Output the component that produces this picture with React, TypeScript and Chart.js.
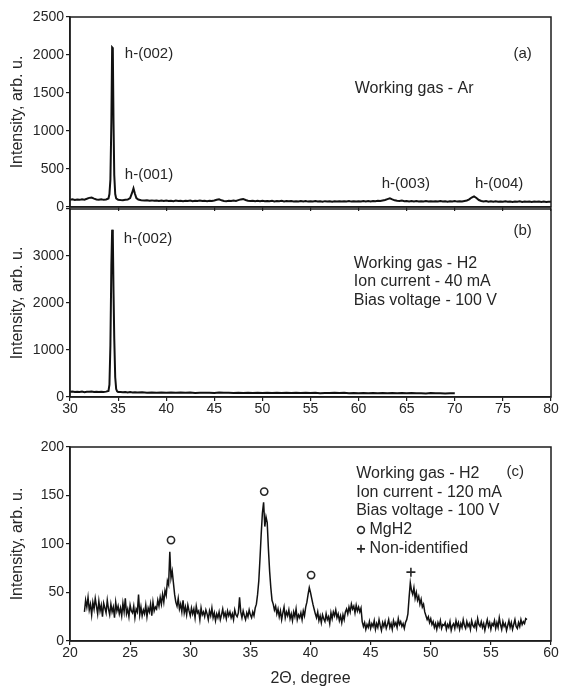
import React, { useEffect, useRef } from 'react';
import { Chart, registerables } from 'chart.js';

Chart.register(...registerables);

const FONT = '"Liberation Sans", Arial, Helvetica, sans-serif';
const TEXT = '#262626';
const AXIS = '#1c1c1c';
const LINE = '#111111';

// ---------- Panel (a): working gas Ar ----------
const aX = [
  30.0, 30.25, 30.5, 30.75, 31.0, 31.25, 31.5, 31.75, 32.0, 32.25, 32.5, 32.75, 33.0, 33.25, 33.5, 33.75,
  34.0, 34.1, 34.2, 34.3, 34.38, 34.45, 34.52, 34.6, 34.7, 34.8, 35.0, 35.25, 35.5, 35.75, 36.0, 36.25,
  36.45, 36.6, 36.75, 36.9, 37.1, 37.4, 37.75, 38.0, 38.25, 38.5, 38.75, 39.0, 39.25, 39.5, 39.75, 40.0,
  40.25, 40.5, 40.75, 41.0, 41.25, 41.5, 41.75, 42.0, 42.25, 42.5, 42.75, 43.0, 43.25, 43.5, 43.75, 44.0,
  44.25, 44.5, 44.75, 45.0, 45.25, 45.5, 45.75, 46.0, 46.25, 46.5, 46.75, 47.0, 47.25, 47.5, 47.75, 48.0,
  48.25, 48.5, 48.75, 49.0, 49.25, 49.5, 49.75, 50.0, 50.25, 50.5, 50.75, 51.0, 51.25, 51.5, 51.75, 52.0,
  52.25, 52.5, 52.75, 53.0, 53.25, 53.5, 53.75, 54.0, 54.25, 54.5, 54.75, 55.0, 55.25, 55.5, 55.75, 56.0,
  56.25, 56.5, 56.75, 57.0, 57.25, 57.5, 57.75, 58.0, 58.25, 58.5, 58.75, 59.0, 59.25, 59.5, 59.75, 60.0,
  60.25, 60.5, 60.75, 61.0, 61.25, 61.5, 61.75, 62.0, 62.25, 62.5, 62.75, 63.0, 63.25, 63.5, 63.75, 64.0,
  64.25, 64.5, 64.75, 65.0, 65.25, 65.5, 65.75, 66.0, 66.25, 66.5, 66.75, 67.0, 67.25, 67.5, 67.75, 68.0,
  68.25, 68.5, 68.75, 69.0, 69.25, 69.5, 69.75, 70.0, 70.25, 70.5, 70.75, 71.0, 71.25, 71.5, 71.75, 72.0,
  72.25, 72.5, 72.75, 73.0, 73.25, 73.5, 73.75, 74.0, 74.25, 74.5, 74.75, 75.0, 75.25, 75.5, 75.75, 76.0,
  76.25, 76.5, 76.75, 77.0, 77.25, 77.5, 77.75, 78.0, 78.25, 78.5, 78.75, 79.0, 79.25, 79.5, 79.75, 80.0,
];
const aY = [
  95, 102, 93, 99, 94, 101, 97, 108, 120, 124, 110, 99, 95, 101, 94, 99,
  112, 170, 360, 1120, 2100, 2090, 1150, 420, 170, 112, 96, 92, 90, 94, 98, 118,
  185, 245, 175, 118, 98, 90, 86, 90, 83, 87, 81, 86, 80, 84, 79, 85,
  78, 83, 77, 84, 79, 82, 76, 83, 78, 85, 77, 82, 79, 84, 78, 81,
  77, 83, 80, 86, 95, 102, 88, 80, 76, 82, 78, 84, 80, 90, 100, 106,
  92, 82, 78, 83, 77, 81, 76, 82, 75, 80, 77, 83, 74, 79, 76, 81,
  73, 78, 75, 80, 74, 77, 72, 79, 74, 78, 71, 77, 73, 78, 72, 76,
  70, 77, 73, 75, 70, 76, 72, 77, 71, 75, 73, 78, 71, 76, 72, 77,
  73, 79, 74, 78, 73, 80, 76, 82, 78, 85, 92, 104, 114, 100, 88, 82,
  78, 84, 76, 80, 74, 79, 73, 78, 72, 77, 74, 79, 72, 76, 71, 77,
  73, 78, 72, 76, 70, 75, 72, 78, 71, 76, 73, 80, 86, 100, 125, 140,
  118, 92, 80, 74, 78, 70, 75, 69, 74, 68, 73, 70, 75, 68, 72, 67,
  73, 69, 74, 67, 72, 68, 73, 66, 71, 68, 72, 66, 71, 67, 70, 70,
];

// ---------- Panel (b): working gas H2, 40 mA ----------
const bX = [
  30.0, 30.25, 30.5, 30.75, 31.0, 31.25, 31.5, 31.75, 32.0, 32.25, 32.5, 32.75, 33.0, 33.25, 33.5, 33.75,
  34.0, 34.1, 34.2, 34.3, 34.38, 34.45, 34.52, 34.6, 34.7, 34.8, 34.9, 35.0, 35.25, 35.5, 35.75, 36.0,
  36.25, 36.5, 36.75, 37.0, 37.5, 38.0, 38.5, 39.0, 39.5, 40.0, 40.5, 41.0, 41.5, 42.0, 42.5, 43.0,
  43.5, 44.0, 44.5, 45.0, 45.5, 46.0, 46.5, 47.0, 47.5, 48.0, 48.5, 49.0, 49.5, 50.0, 50.5, 51.0,
  51.5, 52.0, 52.5, 53.0, 53.5, 54.0, 54.5, 55.0, 55.5, 56.0, 56.5, 57.0, 57.5, 58.0, 58.5, 59.0,
  59.5, 60.0, 60.5, 61.0, 61.5, 62.0, 62.5, 63.0, 63.5, 64.0, 64.5, 65.0, 65.5, 66.0, 66.5, 67.0,
  67.5, 68.0, 68.5, 69.0, 69.5, 70.0,
];
const bY = [
  110, 118, 105, 112, 108, 116, 104, 113, 110, 118, 106, 112, 104, 111, 106, 114,
  130, 260, 1100, 2800, 3560, 3450, 2300, 1250, 420, 170, 120, 108, 104, 100, 106, 98,
  104, 96, 102, 95, 101, 93, 98, 91, 96, 90, 95, 88, 94, 89, 95, 87,
  93, 88, 92, 86, 94, 88, 91, 86, 92, 87, 93, 85, 91, 86, 90, 84,
  89, 85, 91, 84, 88, 83, 89, 84, 88, 82, 87, 83, 90, 85, 88, 82,
  87, 81, 86, 80, 85, 81, 84, 79, 85, 80, 83, 78, 84, 79, 82, 77,
  83, 78, 81, 76, 82, 79,
];

// ---------- Panel (c): working gas H2, 120 mA (2θ from 21.2° in 0.1° steps) ----------
const cStart = 21.2;
const cStep = 0.1;
const cY = [
  30, 42, 35, 45, 32, 38, 27, 40, 33, 44,
  36, 28, 41, 31, 37, 25, 39, 34, 29, 42,
  33, 27, 38, 30, 35, 24, 40, 31, 36, 28,
  34, 26, 39, 30, 44, 28, 33, 25, 37, 31,
  29, 36, 24, 33, 30, 48, 27, 35, 26, 32,
  28, 37, 25, 34, 30, 38, 26, 40, 31, 35,
  33, 42, 36, 45, 38, 48, 40, 52, 47, 62,
  58, 92, 65, 72, 60, 48, 40, 36, 44, 33,
  38, 30, 42, 29, 35, 27, 37, 31, 26, 34,
  28, 33, 24, 36, 29, 31, 22, 34, 27, 30,
  25, 32, 28, 22, 31, 26, 34, 24, 29, 21,
  28, 24, 30, 22, 27, 33, 25, 29, 23, 31,
  26, 30, 24, 28, 22, 32, 27, 25, 29, 45,
  30, 24, 31, 26, 22, 29, 25, 32, 27, 24,
  30, 26, 34, 38, 48, 62, 85, 110, 132, 143,
  118, 128, 122, 95, 72, 55, 42, 38, 32, 36,
  28, 33, 25, 31, 22, 29, 35, 24, 30, 26,
  32, 23, 28, 21, 30, 25, 33, 22, 27, 24,
  29, 22, 31, 26, 35, 40, 48, 55, 50, 44,
  38, 33, 28, 24, 30, 21, 26, 19, 27, 23,
  20, 28, 22, 25, 18, 29, 23, 30, 26, 32,
  24, 28, 21, 26, 19, 27, 22, 30, 33, 28,
  35, 30, 38, 33, 36, 29, 37, 31, 35, 30,
  34, 20, 15, 19, 12, 17, 14, 20, 13, 18,
  15, 21, 12, 18, 14, 22, 16, 11, 19, 15,
  20, 13, 17, 22, 14, 18, 12, 21, 16, 19,
  14, 23, 17, 20, 15, 18, 13, 19, 22, 28,
  45, 60, 52, 48, 55, 44, 50, 42, 46, 38,
  43, 35, 38, 30, 26, 22, 25, 19, 23, 17,
  20, 14, 18, 12, 19, 15, 21, 13, 17, 16,
  19, 12, 17, 14, 20, 11, 16, 18, 13, 21,
  15, 19, 12, 18, 14, 22, 16, 13, 20, 15,
  18, 12, 21, 16, 14, 19, 13, 23, 17, 15,
  20, 14, 18, 11, 17, 22, 15, 19, 12, 18,
  16, 21, 13, 19, 14, 24, 17, 12, 20, 15,
  18, 11, 16, 21, 14, 19, 12, 17, 22, 15,
  13, 19, 15, 22, 17, 20, 18, 23, 22,
];
const mgh2X = [28.4, 36.15, 40.05];
const mgh2Y = [104, 154, 68];
const unknownX = [48.35];
const unknownY = [71];

// axis ticks: [min, max, step]
const abXTicks = [30, 80, 5];
const aYTicks = [0, 2500, 500];
const bYTicks = [0, 4000, 1000];
const cXTicks = [20, 60, 5];
const cYTicks = [0, 200, 50];

type Note = { kind?: 'text' | 'circle' | 'plus'; x: number; y: number; text?: string; size?: number };

function notesPlugin(items: Note[]) {
  return {
    id: 'notes',
    afterDatasetsDraw(chart: any) {
      const { ctx } = chart;
      const xs = chart.scales.x;
      const ys = chart.scales.y;
      ctx.save();
      for (const n of items) {
        const px = xs.getPixelForValue(n.x);
        const py = ys.getPixelForValue(n.y);
        if (n.kind === 'circle') {
          ctx.beginPath();
          ctx.lineWidth = 1.6;
          ctx.strokeStyle = TEXT;
          ctx.arc(px, py, 3.4, 0, Math.PI * 2);
          ctx.stroke();
        } else if (n.kind === 'plus') {
          ctx.beginPath();
          ctx.lineWidth = 1.6;
          ctx.strokeStyle = TEXT;
          ctx.moveTo(px - 4, py);
          ctx.lineTo(px + 4, py);
          ctx.moveTo(px, py - 4);
          ctx.lineTo(px, py + 4);
          ctx.stroke();
        } else {
          ctx.font = `${n.size || 16}px ${FONT}`;
          ctx.fillStyle = TEXT;
          ctx.textAlign = 'left';
          ctx.textBaseline = 'middle';
          ctx.fillText(n.text || '', px, py);
        }
      }
      ctx.restore();
    },
  };
}

const framePlugin = {
  id: 'frame',
  afterDatasetsDraw(chart: any) {
    const { ctx, chartArea: a } = chart;
    ctx.save();
    ctx.strokeStyle = AXIS;
    ctx.lineWidth = 1.5;
    ctx.strokeRect(a.left, a.top, a.right - a.left, a.bottom - a.top);
    ctx.restore();
  },
};

function xScale(t: number[], showLabels: boolean, height: number, title?: string) {
  return {
    type: 'linear',
    min: t[0],
    max: t[1],
    ticks: {
      stepSize: t[2],
      display: showLabels,
      color: TEXT,
      font: { size: 14, family: FONT },
      padding: 0,
      maxRotation: 0,
    },
    grid: { drawOnChartArea: false, drawTicks: true, tickLength: 4, color: AXIS, lineWidth: 1.2 },
    border: { display: true, color: AXIS, width: 1.5 },
    title: title
      ? { display: true, text: title, color: TEXT, font: { size: 16, family: FONT }, padding: { top: 0, bottom: 3 } }
      : { display: false },
    afterFit: (s: any) => {
      s.height = height;
    },
  };
}

function yScale(t: number[], hideTop: boolean) {
  return {
    min: t[0],
    max: t[1],
    ticks: {
      stepSize: t[2],
      color: TEXT,
      font: { size: 14, family: FONT },
      padding: 2,
      callback: (v: number) => (hideTop && v === t[1] ? '' : String(v)),
    },
    grid: { drawOnChartArea: false, drawTicks: true, tickLength: 4, color: AXIS, lineWidth: 1.2 },
    border: { display: true, color: AXIS, width: 1.5 },
    title: {
      display: true,
      text: 'Intensity, arb. u.',
      color: TEXT,
      font: { size: 16, family: FONT },
      padding: { top: 0, bottom: 0 },
    },
    afterFit: (s: any) => {
      s.width = 62;
    },
  };
}

function lineSet(xs: number[], ys: number[], width: number) {
  return {
    data: xs.map((x, i) => ({ x, y: ys[i] })),
    borderColor: LINE,
    borderWidth: width,
    pointRadius: 0,
    tension: 0,
    fill: false,
  };
}

function baseOptions(padding: any, scales: any) {
  return {
    responsive: false,
    animation: false,
    devicePixelRatio: 1,
    layout: { padding },
    plugins: { legend: { display: false }, tooltip: { enabled: false } },
    events: [],
    scales,
  };
}

export default function App() {
  const aRef = useRef<HTMLCanvasElement>(null);
  const bRef = useRef<HTMLCanvasElement>(null);
  const cRef = useRef<HTMLCanvasElement>(null);

  useEffect(() => {
    Chart.defaults.font.family = FONT;
    const cX = cY.map((_, i) => +(cStart + i * cStep).toFixed(2));

    const chartA = new Chart(aRef.current as HTMLCanvasElement, {
      type: 'line',
      data: { datasets: [lineSet(aX, aY, 2)] as any },
      options: baseOptions({ left: 8, right: 11, top: 17, bottom: 464 }, {
        x: xScale(abXTicks, false, 20),
        y: yScale(aYTicks, false),
      }) as any,
      plugins: [
        framePlugin,
        notesPlugin([
          { x: 35.7, y: 2010, text: 'h-(002)', size: 15 },
          { x: 35.7, y: 420, text: 'h-(001)', size: 15 },
          { x: 62.4, y: 310, text: 'h-(003)', size: 15 },
          { x: 72.1, y: 310, text: 'h-(004)', size: 15 },
          { x: 59.6, y: 1555, text: 'Working gas - Ar', size: 16 },
          { x: 76.1, y: 2010, text: '(a)', size: 15 },
        ]),
      ],
    });

    const chartB = new Chart(bRef.current as HTMLCanvasElement, {
      type: 'line',
      data: { datasets: [lineSet(bX, bY, 2)] as any },
      options: baseOptions({ left: 8, right: 11, top: 209, bottom: 264 }, {
        x: xScale(abXTicks, true, 30),
        y: yScale(bYTicks, true),
      }) as any,
      plugins: [
        framePlugin,
        notesPlugin([
          { x: 35.6, y: 3370, text: 'h-(002)', size: 15 },
          { x: 76.1, y: 3545, text: '(b)', size: 15 },
          { x: 59.5, y: 2846, text: 'Working gas - H2', size: 16 },
          { x: 59.5, y: 2450, text: 'Ion current - 40 mA', size: 16 },
          { x: 59.5, y: 2054, text: 'Bias voltage - 100 V', size: 16 },
        ]),
      ],
    });

    const chartC = new Chart(cRef.current as HTMLCanvasElement, {
      type: 'line',
      data: {
        datasets: [
          lineSet(cX, cY, 1.5),
          {
            data: mgh2X.map((x, i) => ({ x, y: mgh2Y[i] })),
            showLine: false,
            pointStyle: 'circle',
            pointRadius: 3.6,
            pointBorderWidth: 1.6,
            pointBorderColor: TEXT,
            pointBackgroundColor: 'rgba(0,0,0,0)',
          },
          {
            data: unknownX.map((x, i) => ({ x, y: unknownY[i] })),
            showLine: false,
            pointStyle: 'cross',
            pointRadius: 4.5,
            pointBorderWidth: 1.6,
            pointBorderColor: TEXT,
          },
        ] as any,
      },
      options: baseOptions({ left: 8, right: 11, top: 447, bottom: 0 }, {
        x: xScale(cXTicks, true, 50, '2\u0398, degree'),
        y: yScale(cYTicks, false),
      }) as any,
      plugins: [
        framePlugin,
        notesPlugin([
          { x: 43.8, y: 173, text: 'Working gas - H2', size: 16 },
          { x: 43.8, y: 153.5, text: 'Ion current - 120 mA', size: 16 },
          { x: 43.8, y: 134, text: 'Bias voltage - 100 V', size: 16 },
          { kind: 'circle', x: 44.2, y: 114.5 },
          { x: 44.9, y: 114.5, text: 'MgH2', size: 16 },
          { kind: 'plus', x: 44.2, y: 95 },
          { x: 44.9, y: 95, text: 'Non-identified', size: 16 },
          { x: 56.3, y: 174, text: '(c)', size: 15 },
        ]),
      ],
    });

    return () => {
      chartA.destroy();
      chartB.destroy();
      chartC.destroy();
    };
  }, []);

  const cv: React.CSSProperties = { position: 'absolute', left: 0, top: 0 };
  return (
    <div style={{ position: 'absolute', left: 0, top: 0, width: 562, height: 691, background: '#ffffff' }}>
      <canvas ref={aRef} width={562} height={691} style={cv} />
      <canvas ref={bRef} width={562} height={691} style={cv} />
      <canvas ref={cRef} width={562} height={691} style={cv} />
    </div>
  );
}
